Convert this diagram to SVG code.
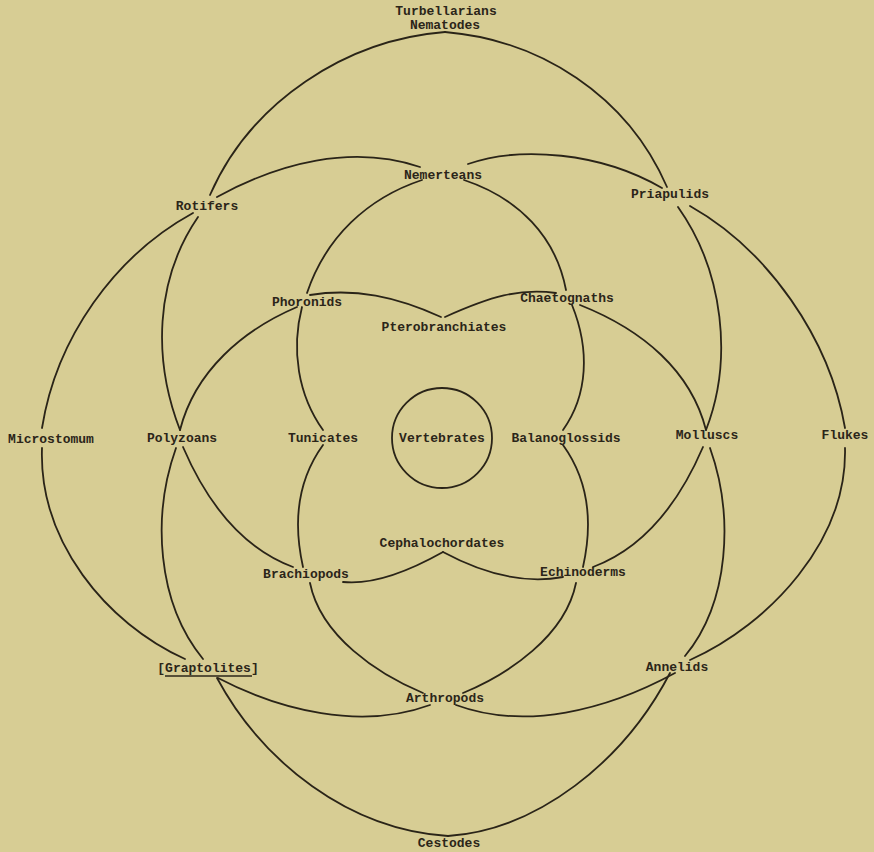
<svg xmlns="http://www.w3.org/2000/svg" width="874" height="852" viewBox="0 0 874 852">
<style>
.c{fill:none;stroke:#2a2418;stroke-width:1.8;stroke-linecap:round}
.t{font-family:"Liberation Mono","DejaVu Sans Mono",monospace;font-size:13px;font-weight:bold;fill:#2b2519;text-anchor:middle}
</style>
<rect width="874" height="852" fill="#d7cd94"/>
<g id="connectors">
<path class="c" d="M210,195 C250.8,101.7 345.7,39.8 445,32"/>
<path class="c" d="M445,32 C540,40 627,95 667,187"/>
<path class="c" d="M217,197 C278.7,163 352.3,144 420,167"/>
<path class="c" d="M468,164 C520,146 600,152 662,188"/>
<path class="c" d="M422,180 C367.2,198.2 325.8,237.3 307,293"/>
<path class="c" d="M302,307 C291,349.5 298,395 323,430"/>
<path class="c" d="M464,180 C518.8,198.2 556,237 566,290"/>
<path class="c" d="M572,305 C590,349.5 588,395 563,430"/>
<path class="c" d="M180,430 C195,371 243,330 297,307"/>
<path class="c" d="M310,295 C355.3,287.7 396.2,296.8 441,317"/>
<path class="c" d="M445,317 C489.8,296.8 520,287.7 556,293"/>
<path class="c" d="M580,305 C643,330 691,371 706,430"/>
<path class="c" d="M198,217 C154.5,280.5 153,360.5 180,430"/>
<path class="c" d="M678,207 C724,272 733,360.5 706,430"/>
<path class="c" d="M193,213 C114.2,256.2 56.3,338.3 42,428"/>
<path class="c" d="M690,206 C768,250 829.7,338.3 845,428"/>
<path class="c" d="M42,448 C38.7,540.8 105.8,623.2 185,659"/>
<path class="c" d="M845,448 C847.3,540.8 770,624 690,660"/>
<path class="c" d="M176,448 C152,515.3 156.5,602.2 203,659"/>
<path class="c" d="M710,448 C734,515.3 729.5,602.2 685,656"/>
<path class="c" d="M183,447 C204.7,497.5 238.3,546.5 293,567"/>
<path class="c" d="M703,447 C681.3,497.5 647.7,546.5 593,567"/>
<path class="c" d="M323,445 C296.8,481.2 293.2,523.3 303,567"/>
<path class="c" d="M563,445 C589.2,481.2 592.8,523.3 583,567"/>
<path class="c" d="M310,583 C320.7,636.2 377.8,674.3 423,693"/>
<path class="c" d="M576,583 C565.3,636.2 508.2,674.3 463,693"/>
<path class="c" d="M343,582 C376.3,585.5 417.2,566.5 443,552"/>
<path class="c" d="M443,552 C469,566 515,586 563,577"/>
<path class="c" d="M218,678 C279.7,710.25 360.8,730.5 430,705"/>
<path class="c" d="M456,705 C525.2,730.5 606.3,710.25 675,673"/>
<path class="c" d="M217,678 C262.5,762.2 348.5,829.8 448,836"/>
<path class="c" d="M448,836 C537.5,829.8 623.5,762.2 670,673"/>
</g>
<g id="turbellarians-nematodes"><text class="t" x="446" y="15">Turbellarians</text><text class="t" x="445" y="29">Nematodes</text></g>
<g id="rotifers"><text class="t" x="207" y="210">Rotifers</text></g>
<g id="nemerteans"><text class="t" x="443" y="179">Nemerteans</text></g>
<g id="priapulids"><text class="t" x="670" y="198">Priapulids</text></g>
<g id="phoronids"><text class="t" x="307" y="306">Phoronids</text></g>
<g id="chaetognaths"><text class="t" x="567" y="302">Chaetognaths</text></g>
<g id="pterobranchiates"><text class="t" x="444" y="331">Pterobranchiates</text></g>
<g id="microstomum"><text class="t" x="51" y="443">Microstomum</text></g>
<g id="polyzoans"><text class="t" x="182" y="442">Polyzoans</text></g>
<g id="tunicates"><text class="t" x="323" y="442">Tunicates</text></g>
<g id="vertebrates"><circle cx="442" cy="438" r="50" class="c"/><text class="t" x="442" y="442">Vertebrates</text></g>
<g id="balanoglossids"><text class="t" x="566" y="442">Balanoglossids</text></g>
<g id="molluscs"><text class="t" x="707" y="439">Molluscs</text></g>
<g id="flukes"><text class="t" x="845" y="439">Flukes</text></g>
<g id="cephalochordates"><text class="t" x="442" y="547">Cephalochordates</text></g>
<g id="brachiopods"><text class="t" x="306" y="578">Brachiopods</text></g>
<g id="echinoderms"><text class="t" x="583" y="576">Echinoderms</text></g>
<g id="graptolites"><text class="t" x="208" y="672">[Graptolites]</text><line x1="165" y1="676" x2="252" y2="676" stroke="#2b2519" stroke-width="1.3"/></g>
<g id="arthropods"><text class="t" x="445" y="702">Arthropods</text></g>
<g id="annelids"><text class="t" x="677" y="671">Annelids</text></g>
<g id="cestodes"><text class="t" x="449" y="847">Cestodes</text></g>
</svg>
